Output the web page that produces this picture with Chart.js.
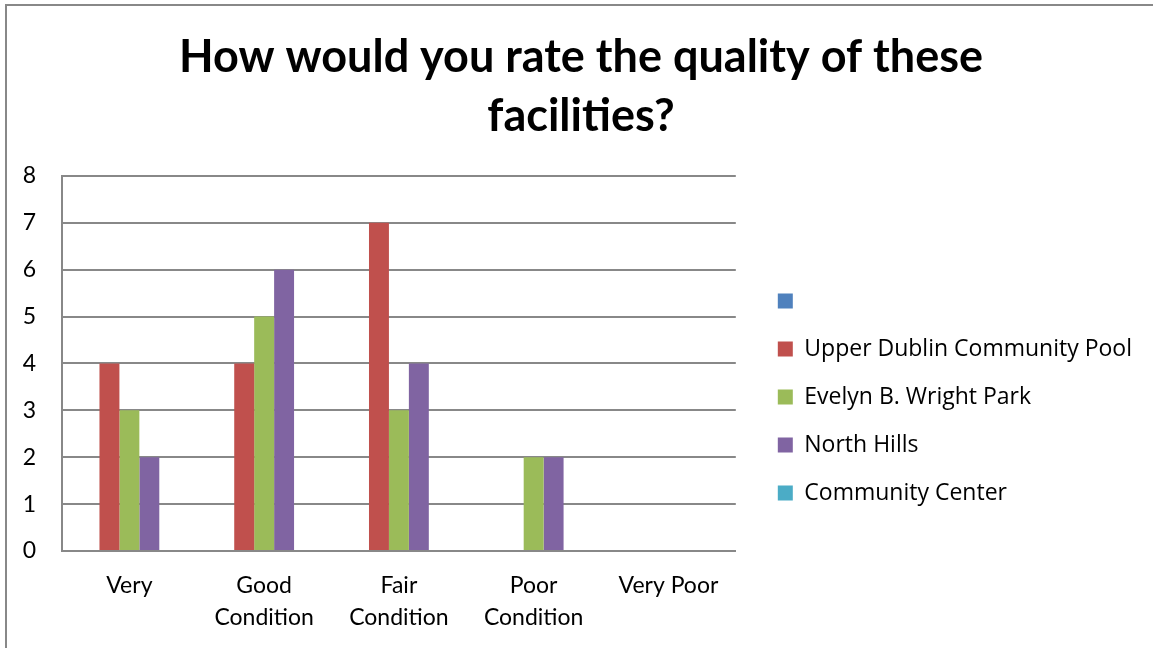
<!DOCTYPE html>
<html>
<head>
<meta charset="utf-8">
<script src="https://cdn.jsdelivr.net/npm/chart.js@4.4.0/dist/chart.umd.min.js"></script>
<style>
  html, body { margin: 0; padding: 0; background: #fff; }
  #wrap { position: relative; width: 1153px; height: 648px; overflow: hidden; }
  #frame { position: absolute; left: 5px; top: 4px; right: -10px; bottom: -10px;
           border-left: 2px solid #888; border-top: 2px solid #888; pointer-events: none; }
</style>
</head>
<body>
<div id="wrap">
  <canvas id="myChart" width="1153" height="648"></canvas>
  <div id="frame"></div>
</div>
<script>
// categorias y series
const categories = ['Very', ['Good', 'Condition'], ['Fair', 'Condition'], ['Poor', 'Condition'], 'Very Poor'];
const seriesNames = ['', 'Upper Dublin Community Pool', 'Evelyn B. Wright Park', 'North Hills', 'Community Center'];
const blankValues = [0, 0, 0, 0, 0];
const poolValues = [4, 4, 7, 0, 0];
const parkValues = [3, 5, 3, 2, 0];
const hillsValues = [2, 6, 4, 2, 0];
const centerValues = [0, 0, 0, 0, 0];
const yTicks = [0, 1, 2, 3, 4, 5, 6, 7, 8];

const colors = ['#4F81BD', '#C0504D', '#9BBB59', '#8064A2', '#4BACC6'];
const allValues = [blankValues, poolValues, parkValues, hillsValues, centerValues];

function drawChart() {
  const ctx = document.getElementById('myChart').getContext('2d');
  new Chart(ctx, {
    type: 'bar',
    data: {
      labels: categories,
      datasets: allValues.map((vals, i) => ({
        label: seriesNames[i],
        data: vals,
        backgroundColor: colors[i],
        borderWidth: 0,
        barPercentage: 1,
        categoryPercentage: 0.74,
        yAxisID: 'y'
      }))
    },
    options: {
      responsive: false,
      animation: false,
      layout: { padding: { left: 20, right: 11, top: 0, bottom: 14 } },
      plugins: {
        title: {
          display: true,
          text: ['How would you rate the quality of these', 'facilities?'],
          color: '#000',
          font: { family: 'Lato', size: 45, weight: 'bold', lineHeight: 1.333 },
          padding: { top: 27, bottom: 29 }
        },
        legend: {
          position: 'right',
          align: 'center',
          fullSize: false,
          maxWidth: 420,
          // empty title only pushes the items down
          title: { display: true, text: ' ', padding: { top: 52.6, bottom: 0 } },
          labels: {
            color: '#000',
            font: { family: 'Open Sans', size: 23 },
            boxWidth: 15,
            boxHeight: 15,
            padding: 25
          }
        },
        tooltip: { enabled: false }
      },
      scales: {
        x: {
          grid: { display: false, drawTicks: false },
          border: { display: true, color: '#888', width: 2 },
          afterFit: s => { s.height = 83; },
          ticks: {
            color: '#000',
            font: { family: 'Lato', size: 23, lineHeight: 1.39 },
            padding: 19,
            maxRotation: 0,
            autoSkip: false
          }
        },
        y: {
          min: 0,
          max: 8,
          afterBuildTicks: axis => { axis.ticks = yTicks.map(v => ({ value: v })); },
          afterFit: s => { s.width = 42; },
          grid: { color: '#888', lineWidth: 2, drawTicks: false },
          border: { display: true, color: '#888', width: 2 },
          ticks: {
            color: '#000',
            font: { family: 'Lato', size: 23 },
            padding: 26
          }
        },
        // spacer between plot and legend
        gap: {
          type: 'linear',
          position: 'right',
          grid: { display: false },
          border: { display: false },
          ticks: { display: false },
          afterFit: s => { s.width = 17; }
        }
      }
    }
  });
}

Promise.all([
  document.fonts.load('bold 45px Lato'),
  document.fonts.load('23px Lato'),
  document.fonts.load('23px "Open Sans"')
]).then(drawChart, drawChart);
</script>
</body>
</html>
